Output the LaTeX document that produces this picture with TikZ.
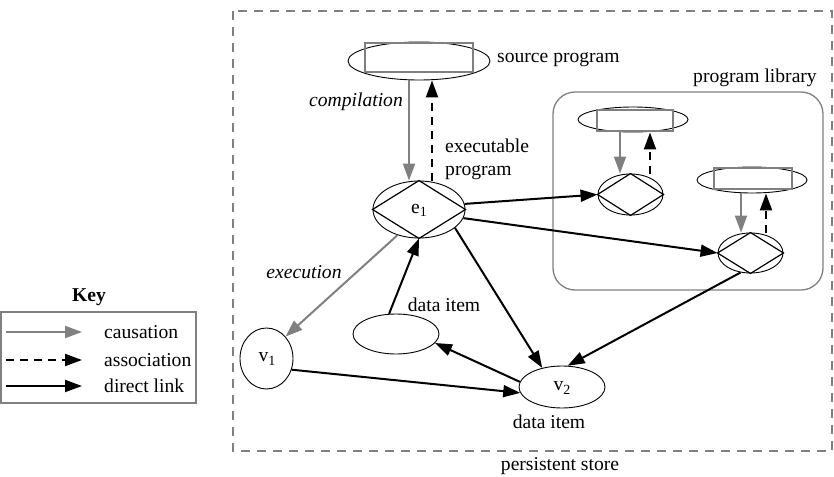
\documentclass[tikz,border=0pt]{standalone}
\usepackage{fontspec}
\setmainfont{Liberation Serif}
\usetikzlibrary{arrows.meta,shapes.geometric}
\definecolor{midgray}{RGB}{128,128,128}
\newcommand{\sub}[1]{\raisebox{-0.35ex}{\fontsize{14}{14}\selectfont #1}}
\tikzset{
  every node/.style={font=\fontsize{19.6}{23}\selectfont},
  ell/.style={draw, ellipse, line width=0.9pt, inner sep=0pt},
  txt/.style={inner sep=0pt},
  tip/.style={-{Triangle[length=17pt,width=12pt]}},
  link/.style={tip, line width=2pt, black},
  cause/.style={tip, line width=2pt, midgray},
  assoc/.style={tip, line width=2pt, black, dash pattern=on 8pt off 6pt},
  inrect/.style={draw=midgray, line width=1.6pt},
  diam/.style={line width=1.2pt}
}
\begin{document}
\begin{tikzpicture}[x=1pt,y=-1pt]
\useasboundingbox (0,0) rectangle (834,476);

% persistent store
\draw[midgray, line width=2pt, dash pattern=on 9pt off 7pt] (233,11) rectangle (832,451);
\node[txt] (pstore) at (560,466) {persistent store};

% program library
\draw[midgray, line width=1.3pt, rounded corners=22pt] (553,92) rectangle (823,290);
\node[txt] (plib) at (755,78) {program library};

% Key
\draw[midgray, line width=1.3pt] (1,312) rectangle (196,403);
\node[txt] (key) at (89,297) {\bfseries Key};
\coordinate (k1a) at (6,332); \coordinate (k1b) at (82,332);
\coordinate (k2a) at (6,360); \coordinate (k2b) at (82,360);
\coordinate (k3a) at (6,386); \coordinate (k3b) at (82,386);
\draw[cause] (k1a) -- (k1b);
\draw[assoc] (k2a) -- (k2b);
\draw[link] (k3a) -- (k3b);
\node[txt, anchor=west] (kt1) at (104,332) {causation};
\node[txt, anchor=west] (kt2) at (104,360) {association};
\node[txt, anchor=west] (kt3) at (104,386) {direct link};

% source program
\node[ell, minimum width=142pt, minimum height=38pt] (src) at (419,61) {};
\draw[inrect] ([shift={(-54,-18)}]src.center) rectangle ([shift={(54,11)}]src.center);
\node[txt, anchor=west] (srclbl) at (497,60) {source program};

% e1
\node[ell, minimum width=92pt, minimum height=57pt] (e1) at (419,209.5) {};
\draw[diam] (e1.north) -- (e1.east) -- (e1.south) -- (e1.west) -- cycle;
\node[txt] (e1lbl) at (419,210) {e\sub{1}};
\node[txt, anchor=west, align=left] (exlbl) at (445,159) {executable\\program};

\draw[cause] ([xshift=-10pt]src.south) -- ([xshift=-10pt]e1.north);
\draw[assoc] ([xshift=13pt]e1.north) -- ([xshift=13pt]src.south);
\node[txt, anchor=east] (comp) at (403,102) {\itshape compilation};

% library nodes
\node[ell, minimum width=110pt, minimum height=25pt] (ls1) at (633,119.5) {};
\draw[inrect] ([shift={(-36,-9.5)}]ls1.center) rectangle ([shift={(40,11.5)}]ls1.center);
\node[ell, minimum width=65pt, minimum height=41pt] (ld1) at (630.5,194.5) {};
\draw[diam] (ld1.north) -- (ld1.east) -- (ld1.south) -- (ld1.west) -- cycle;
\draw[cause] ([xshift=-13pt]ls1.south) -- ([xshift=-10.5pt]ld1.north);
\draw[assoc] ([xshift=19.5pt]ld1.north) -- ([xshift=17pt]ls1.south);

\node[ell, minimum width=110pt, minimum height=26pt] (ls2) at (752,180) {};
\draw[inrect] ([shift={(-38,-12)}]ls2.center) rectangle ([shift={(40,9)}]ls2.center);
\node[ell, minimum width=65pt, minimum height=40pt] (ld2) at (750.5,253) {};
\draw[diam] (ld2.north) -- (ld2.east) -- (ld2.south) -- (ld2.west) -- cycle;
\draw[cause] ([xshift=-11pt]ls2.south) -- ([xshift=-9.5pt]ld2.north);
\draw[assoc] ([xshift=15.5pt]ld2.north) -- ([xshift=14pt]ls2.south);

% data nodes
\node[ell, minimum width=53pt, minimum height=61pt] (v1) at (266.5,358.5) {};
\node[txt] (v1lbl) at (267,359) {v\sub{1}};
\node[ell, minimum width=86pt, minimum height=40pt] (d) at (396,334) {};
\node[txt] (dlbl) at (444,305) {data item};
\node[ell, minimum width=86pt, minimum height=42pt] (v2) at (562,387) {};
\node[txt] (v2lbl) at (562,388) {v\sub{2}};
\node[txt] (v2dl) at (549,422) {data item};

% connectors
\draw[link] (e1.7) -- (ld1.west);
\draw[link] (e1.-11) -- (ld2.west);
\draw[link] (e1.-27) -- (v2.136);
\draw[link] (ld2.-117) -- (v2.75);
\draw[cause] (e1.-130) -- (v1.49);
\node[txt] (exec) at (304,272) {\itshape execution};
\draw[link] (d.109) -- (e1.south);
\draw[link] (v2.173) -- (d.-13);
\draw[link] (v1.-24) -- (v2.188);
\end{tikzpicture}
\end{document}
